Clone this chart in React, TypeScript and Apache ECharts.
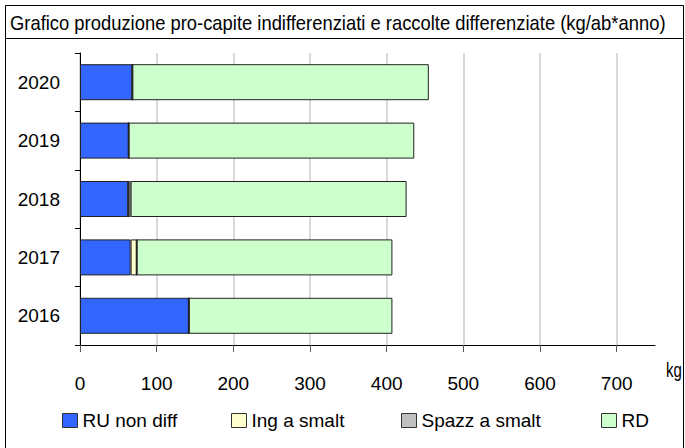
import React, { useEffect, useRef } from "react";
import * as echarts from "echarts";

const years = ["2016", "2017", "2018", "2019", "2020"];
const ruNonDiff = [142, 66, 63, 63.5, 68.3];
const ingASmalt = [0, 8, 0, 0, 0];
const spazzASmalt = [0, 0, 3, 0, 0];
const rd = [265.5, 333.5, 360, 372.5, 386.7];
const xTicks = [0, 100, 200, 300, 400, 500, 600, 700];

const seriesNames = ["RU non diff", "Ing a smalt", "Spazz a smalt", "RD"];
const seriesColors = ["#3366FF", "#FFFFCC", "#C0C0C0", "#CCFFCC"];
const seriesData = [ruNonDiff, ingASmalt, spazzASmalt, rd];
const legendLefts = [62, 231, 401, 601];

const FONT = "'Liberation Sans', Arial, sans-serif";

export default function App() {
  const ref = useRef<HTMLDivElement>(null);
  useEffect(() => {
    if (!ref.current) return;
    const chart = echarts.init(ref.current, null, { renderer: "svg" });
    chart.setOption({
      animation: false,
      backgroundColor: "#ffffff",
      textStyle: { fontFamily: FONT, color: "#000" },
      grid: { left: 80, right: 30, top: 53, bottom: 103, containLabel: false },
      legend: seriesNames.map((n, i) => ({
        data: [n],
        left: legendLefts[i],
        top: 411,
        icon: "rect",
        itemWidth: 15,
        itemHeight: 14,
        itemGap: 5,
        padding: 0,
        itemStyle: { borderColor: "#333", borderWidth: 1 },
        textStyle: { fontFamily: FONT, fontSize: 19, color: "#000" },
      })),
      xAxis: {
        type: "value",
        min: 0,
        max: 750,
        interval: 100,
        axisLine: { show: true, lineStyle: { color: "#000", width: 1 } },
        axisTick: { show: true, length: 7, inside: false, customValues: xTicks, lineStyle: { color: "#555" } },
        axisLabel: { customValues: xTicks, margin: 29, fontSize: 19, color: "#000", fontFamily: FONT },
        splitLine: { show: true, lineStyle: { color: "#cccccc", width: 1.5 } },
      },
      yAxis: {
        type: "category",
        data: years,
        axisLine: { show: true, lineStyle: { color: "#000", width: 1 } },
        axisTick: { show: true, length: 5, inside: false, lineStyle: { color: "#000" } },
        axisLabel: { margin: 20, fontSize: 19, color: "#000", fontFamily: FONT },
        splitLine: { show: false },
      },
      series: seriesNames.map((n, i) => ({
        name: n,
        type: "bar",
        stack: "total",
        barWidth: 36,
        data: seriesData[i],
        itemStyle: { color: seriesColors[i], borderColor: "#222", borderWidth: 1 },
      })),
      graphic: [
        {
          type: "rect",
          shape: { x: 5.5, y: 5.5, width: 678, height: 470 },
          style: { fill: "none", stroke: "#000", lineWidth: 1 },
          silent: true,
        },
        {
          type: "line",
          shape: { x1: 5.5, y1: 38.5, x2: 683.5, y2: 38.5 },
          style: { stroke: "#000", lineWidth: 1 },
          silent: true,
        },
        {
          type: "text",
          x: 10,
          y: 13,
          scaleX: 0.92,
          style: {
            x: 0,
            y: 0,
            text: "Grafico produzione pro-capite indifferenziati e raccolte differenziate (kg/ab*anno)",
            font: `20px ${FONT}`,
            fill: "#000",
            verticalAlign: "top",
            align: "left",
          },
        },
        {
          type: "text",
          x: 666,
          y: 360,
          scaleX: 0.75,
          style: { x: 0, y: 0, text: "kg", font: `20px ${FONT}`, fill: "#000", verticalAlign: "top", align: "left" },
        },
      ],
    });
    return () => chart.dispose();
  }, []);
  return <div ref={ref} style={{ position: "fixed", left: 0, top: 0, width: 685, height: 448 }} />;
}
